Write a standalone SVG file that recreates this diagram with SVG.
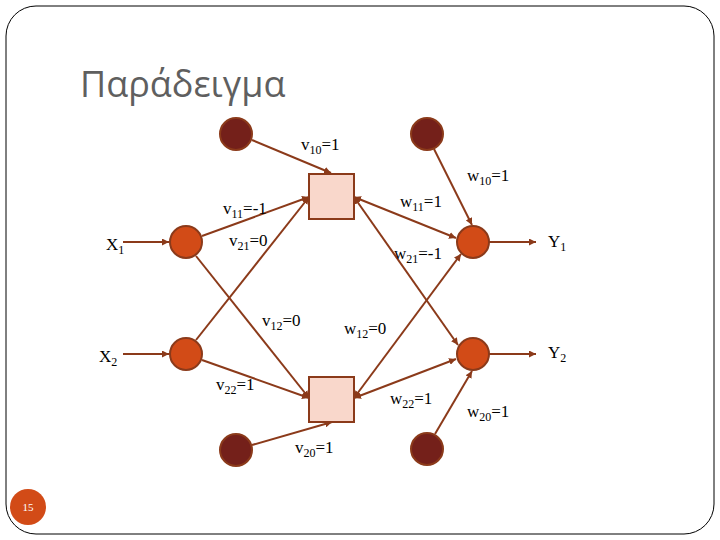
<svg xmlns="http://www.w3.org/2000/svg" width="720" height="540" viewBox="0 0 720 540">
<style>
.lbl{font-family:"Liberation Serif","Times New Roman",serif;font-size:17px;fill:#000}
.sub{font-size:12px}
.io{fill:#D24B17;stroke:#8B3A1A;stroke-width:2}
.bias{fill:#74201A;stroke:#8B3A1A;stroke-width:2}
.hid{fill:#F9D7CB;stroke:#8B3A1A;stroke-width:2}
.con line{stroke:#8B3A1A;stroke-width:2;fill:none}
</style>
<defs>
<marker id="ah" viewBox="0 0 10 10" refX="10" refY="5" markerWidth="3.5" markerHeight="3.5" orient="auto-start-reverse" markerUnits="strokeWidth">
<path d="M0,0 L10,5 L0,10 z" fill="#8B3A1A"/>
</marker>
</defs>
<rect x="6" y="6" width="708" height="528" rx="30" ry="30" fill="#fff" stroke="#000" stroke-width="1"/>
<text x="80" y="97" font-family="'Open Sans','DejaVu Sans',sans-serif" font-size="36" fill="#5f5f5f">Παράδειγμα</text>
<g class="con">
<line x1="252" y1="140" x2="331" y2="173" marker-end="url(#ah)"/>
<line x1="434" y1="149" x2="472" y2="225" marker-end="url(#ah)"/>
<line x1="252" y1="445" x2="332" y2="422" marker-end="url(#ah)"/>
<line x1="435" y1="434" x2="472" y2="371" marker-end="url(#ah)"/>
<line x1="202" y1="236" x2="309" y2="197" marker-end="url(#ah)"/>
<line x1="196" y1="256" x2="309" y2="398" marker-end="url(#ah)"/>
<line x1="196" y1="340" x2="309" y2="197" marker-end="url(#ah)"/>
<line x1="202" y1="360" x2="309" y2="398" marker-end="url(#ah)"/>
<line x1="354" y1="197" x2="456" y2="238" marker-start="url(#ah)" marker-end="url(#ah)"/>
<line x1="354" y1="197" x2="458" y2="345" marker-start="url(#ah)" marker-end="url(#ah)"/>
<line x1="354" y1="398" x2="461" y2="254" marker-start="url(#ah)" marker-end="url(#ah)"/>
<line x1="354" y1="398" x2="456" y2="359" marker-start="url(#ah)" marker-end="url(#ah)"/>
<line x1="123" y1="242" x2="169" y2="242" marker-end="url(#ah)"/>
<line x1="123" y1="354" x2="169" y2="354" marker-end="url(#ah)"/>
<line x1="489" y1="242" x2="536" y2="242" marker-end="url(#ah)"/>
<line x1="489" y1="354" x2="536" y2="354" marker-end="url(#ah)"/>
</g>
<g id="b1"><circle class="bias" cx="236" cy="134" r="16"/></g>
<g id="b2"><circle class="bias" cx="427" cy="134" r="16"/></g>
<g id="b3"><circle class="bias" cx="236" cy="450" r="16"/></g>
<g id="b4"><circle class="bias" cx="427" cy="449" r="16"/></g>
<g id="x1"><circle class="io" cx="186" cy="242" r="16"/></g>
<g id="x2"><circle class="io" cx="186" cy="354" r="16"/></g>
<g id="y1"><circle class="io" cx="473" cy="242" r="16"/></g>
<g id="y2"><circle class="io" cx="473" cy="354" r="16"/></g>
<g id="z1"><rect class="hid" x="309" y="174" width="45" height="45"/></g>
<g id="z2"><rect class="hid" x="309" y="377" width="45" height="45"/></g>
<g id="labels">
<text class="lbl" x="301" y="150">v<tspan class="sub" dy="4">10</tspan><tspan dy="-4">=1</tspan></text>
<text class="lbl" x="467" y="181">w<tspan class="sub" dy="4">10</tspan><tspan dy="-4">=1</tspan></text>
<text class="lbl" x="223" y="214">v<tspan class="sub" dy="4">11</tspan><tspan dy="-4">=-1</tspan></text>
<text class="lbl" x="400" y="207">w<tspan class="sub" dy="4">11</tspan><tspan dy="-4">=1</tspan></text>
<text class="lbl" x="106" y="250">X<tspan class="sub" dy="4">1</tspan></text>
<text class="lbl" x="229" y="246">v<tspan class="sub" dy="4">21</tspan><tspan dy="-4">=0</tspan></text>
<text class="lbl" x="394" y="259">w<tspan class="sub" dy="4">21</tspan><tspan dy="-4">=-1</tspan></text>
<text class="lbl" x="548" y="247">Y<tspan class="sub" dy="4">1</tspan></text>
<text class="lbl" x="262" y="326">v<tspan class="sub" dy="4">12</tspan><tspan dy="-4">=0</tspan></text>
<text class="lbl" x="344" y="334">w<tspan class="sub" dy="4">12</tspan><tspan dy="-4">=0</tspan></text>
<text class="lbl" x="99" y="362">X<tspan class="sub" dy="4">2</tspan></text>
<text class="lbl" x="548" y="358">Y<tspan class="sub" dy="4">2</tspan></text>
<text class="lbl" x="216" y="390">v<tspan class="sub" dy="4">22</tspan><tspan dy="-4">=1</tspan></text>
<text class="lbl" x="390" y="404">w<tspan class="sub" dy="4">22</tspan><tspan dy="-4">=1</tspan></text>
<text class="lbl" x="467" y="417">w<tspan class="sub" dy="4">20</tspan><tspan dy="-4">=1</tspan></text>
<text class="lbl" x="295" y="453">v<tspan class="sub" dy="4">20</tspan><tspan dy="-4">=1</tspan></text>
</g>
<g id="page"><circle cx="28" cy="507" r="18" fill="#D24B17"/>
<text x="28" y="511" text-anchor="middle" font-family="'Liberation Serif',serif" font-size="11" fill="#fff">15</text></g>
</svg>
